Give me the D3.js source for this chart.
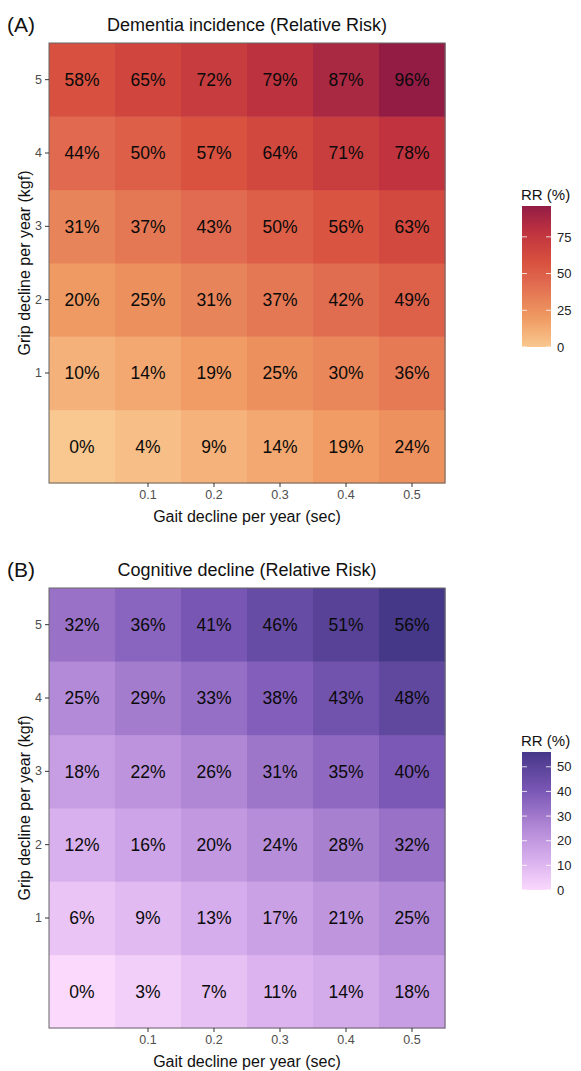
<!DOCTYPE html>
<html>
<head>
<meta charset="utf-8">
<script src="https://cdn.jsdelivr.net/npm/d3@7"></script>
<style>
  body { margin: 0; background: #fff; }
  text { font-family: "Liberation Sans", Arial, sans-serif; }
</style>
</head>
<body>
<svg id="svg1" width="581" height="1071"></svg>
<script>
// data
var gaitLevels = [0, 0.1, 0.2, 0.3, 0.4, 0.5];
var gripLevels = [0, 1, 2, 3, 4, 5];
var gaitTicks = [0.1, 0.2, 0.3, 0.4, 0.5];
var gripTicks = [1, 2, 3, 4, 5];

// rows by grip 0..5, columns by gait 0..0.5
var dementiaRR = [
  [0, 4, 9, 14, 19, 24],
  [10, 14, 19, 25, 30, 36],
  [20, 25, 31, 37, 42, 49],
  [31, 37, 43, 50, 56, 63],
  [44, 50, 57, 64, 71, 78],
  [58, 65, 72, 79, 87, 96]
];
var cognitiveRR = [
  [0, 3, 7, 11, 14, 18],
  [6, 9, 13, 17, 21, 25],
  [12, 16, 20, 24, 28, 32],
  [18, 22, 26, 31, 35, 40],
  [25, 29, 33, 38, 43, 48],
  [32, 36, 41, 46, 51, 56]
];
var legendTicksA = [0, 25, 50, 75];
var legendTicksB = [0, 10, 20, 30, 40, 50];

var svg = d3.select("#svg1");

function panel(opts) {
  var top = opts.top;
  var g = svg.append("g").attr("transform", "translate(0," + top + ")");

  var cells = [];
  opts.values.forEach(function(row, i) {
    row.forEach(function(v, j) {
      cells.push({ grip: gripLevels[i], gait: gaitLevels[j], value: v });
    });
  });

  var xb = d3.scaleBand().domain(gaitLevels).range([49, 445]).padding(0);
  var yb = d3.scaleBand().domain(gripLevels).range([440, 0]).padding(0);

  var color = d3.scaleLinear()
    .domain(opts.stops.map(function(s) { return s[0]; }))
    .range(opts.stops.map(function(s) { return s[1]; }))
    .interpolate(d3.interpolateLab);

  g.selectAll(".cell").data(cells).enter()
    .append("rect")
    .attr("x", function(d) { return xb(d.gait); })
    .attr("y", function(d) { return yb(d.grip); })
    .attr("width", xb.bandwidth() + 0.5)
    .attr("height", yb.bandwidth() + 0.5)
    .style("fill", function(d) { return color(d.value); });

  g.selectAll(".lab").data(cells).enter()
    .append("text")
    .attr("x", function(d) { return xb(d.gait) + xb.bandwidth() / 2; })
    .attr("y", function(d) { return yb(d.grip) + yb.bandwidth() / 2; })
    .attr("dy", "0.36em")
    .style("text-anchor", "middle")
    .style("font-size", "17.5px")
    .style("fill", "#0a0a0a")
    .text(function(d) { return d.value + "%"; });

  g.append("rect")
    .attr("x", 49).attr("y", 0)
    .attr("width", 396).attr("height", 440)
    .style("fill", "none").style("stroke", "#666").style("stroke-width", 1);

  // x axis
  var xa = g.append("g")
    .attr("transform", "translate(0,440)")
    .call(d3.axisBottom(xb).tickValues(gaitTicks).tickSize(4).tickPadding(3)
      .tickFormat(d3.format(".1f")));
  xa.select(".domain").remove();
  xa.selectAll("line").style("stroke", "#333");
  xa.selectAll("text").style("font-size", "12.5px").style("fill", "#4d4d4d")
    .style("font-family", "Liberation Sans, Arial, sans-serif");

  // y axis
  var ya = g.append("g")
    .attr("transform", "translate(49,0)")
    .call(d3.axisLeft(yb).tickValues(gripTicks).tickSize(4).tickPadding(3));
  ya.select(".domain").remove();
  ya.selectAll("line").style("stroke", "#333");
  ya.selectAll("text").style("font-size", "12.5px").style("fill", "#4d4d4d")
    .style("font-family", "Liberation Sans, Arial, sans-serif");

  g.append("text")
    .attr("x", 247).attr("y", 479)
    .style("text-anchor", "middle").style("font-size", "16px").style("fill", "#111")
    .text("Gait decline per year (sec)");

  g.append("text")
    .attr("transform", "translate(30,220) rotate(-90)")
    .style("text-anchor", "middle").style("font-size", "16px").style("fill", "#111")
    .text("Grip decline per year (kgf)");

  // titles
  g.append("text")
    .attr("x", 7).attr("y", -11)
    .style("font-size", "21px").style("fill", "#111")
    .text(opts.tag);
  g.append("text")
    .attr("x", 247).attr("y", -12)
    .style("text-anchor", "middle").style("font-size", "18px").style("fill", "#111")
    .text(opts.title);

  // legend colour bar
  var lg = svg.append("g");
  var lx = 522, lw = 29;
  var ly = d3.scaleLinear().domain([0, opts.max]).range([opts.legBottom, opts.legTop]);

  var gid = "grad" + opts.tag.replace(/[()]/g, "");
  var grad = svg.append("defs").append("linearGradient")
    .attr("id", gid)
    .attr("x1", "0%").attr("x2", "0%").attr("y1", "100%").attr("y2", "0%");
  var steps = d3.range(0, 21).map(function(i) { return opts.max * i / 20; });
  grad.selectAll("stop").data(steps).enter().append("stop")
    .attr("offset", function(d) { return (100 * d / opts.max) + "%"; })
    .style("stop-color", function(d) { return color(d); });

  lg.append("rect")
    .attr("x", lx).attr("y", ly(opts.max))
    .attr("width", lw).attr("height", ly(0) - ly(opts.max))
    .style("fill", "url(#" + gid + ")");

  lg.selectAll(".tl").data(opts.legTicks).enter().append("line")
    .attr("x1", lx).attr("x2", lx + 5)
    .attr("y1", function(d) { return ly(d); }).attr("y2", function(d) { return ly(d); })
    .style("stroke", "#fff").style("stroke-width", 1).style("opacity", 0.8);
  lg.selectAll(".tr").data(opts.legTicks).enter().append("line")
    .attr("x1", lx + lw - 5).attr("x2", lx + lw)
    .attr("y1", function(d) { return ly(d); }).attr("y2", function(d) { return ly(d); })
    .style("stroke", "#fff").style("stroke-width", 1).style("opacity", 0.8);

  lg.selectAll(".lt").data(opts.legTicks).enter().append("text")
    .attr("x", lx + lw + 6)
    .attr("y", function(d) { return ly(d); })
    .attr("dy", "0.36em")
    .style("font-size", "13px").style("fill", "#222")
    .text(function(d) { return d; });

  lg.append("text")
    .attr("x", lx - 1).attr("y", ly(opts.max) - 6)
    .style("font-size", "15px").style("fill", "#111")
    .text("RR (%)");
}

panel({
  top: 43, tag: "(A)", title: "Dementia incidence (Relative Risk)",
  values: dementiaRR, max: 96, legTicks: legendTicksA,
  legTop: 206, legBottom: 347,
  stops: [[0, "#f8c890"], [20, "#ef9a62"], [44, "#e0694f"], [58, "#d8503f"], [78, "#c0333f"], [96, "#931c45"]]
});

panel({
  top: 588, tag: "(B)", title: "Cognitive decline (Relative Risk)",
  values: cognitiveRR, max: 56, legTicks: legendTicksB,
  legTop: 752, legBottom: 890,
  stops: [[0, "#fad9fc"], [12, "#d9b0ee"], [25, "#b38ad7"], [40, "#7b58b6"], [56, "#463889"]]
});
</script>
</body>
</html>
